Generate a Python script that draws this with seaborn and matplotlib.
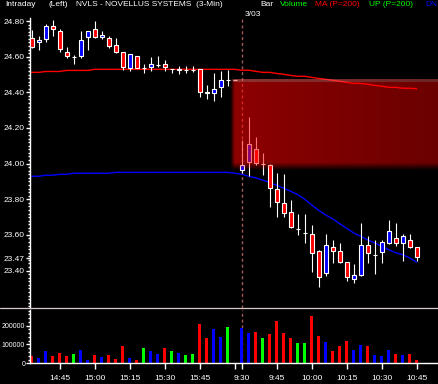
import numpy as np
import matplotlib
matplotlib.use("Agg")
import matplotlib.pyplot as plt
import seaborn as sns
from matplotlib.patches import Rectangle
from matplotlib.lines import Line2D
from matplotlib.ticker import FixedLocator, MultipleLocator

# ---------------- data (3-min bars, previous session then 3/03) ----------------
opens = [24.705, 24.681, 24.697, 24.770, 24.742, 24.624, 24.598, 24.602, 24.710, 24.753,
         24.709, 24.705, 24.667, 24.624, 24.538, 24.602, 24.538, 24.540, 24.553, 24.559,
         24.532, 24.528, 24.525, 24.525, 24.532, 24.402, 24.394, 24.432, 24.469, 24.468,
         23.964, 24.011, 24.080, 23.998, 23.990, 23.858, 23.777, 23.730, 23.632, 23.609,
         23.605, 23.510, 23.388, 23.532, 23.510, 23.447, 23.351, 23.375, 23.544, 23.486,
         23.503, 23.557, 23.581, 23.557, 23.572, 23.530]
highs = [24.750, 24.714, 24.783, 24.807, 24.755, 24.654, 24.608, 24.742, 24.742, 24.798,
         24.742, 24.714, 24.705, 24.624, 24.613, 24.602, 24.557, 24.596, 24.603, 24.581,
         24.532, 24.548, 24.548, 24.548, 24.532, 24.441, 24.510, 24.521, 24.525, 24.468,
         24.133, 24.263, 24.151, 24.061, 23.998, 23.946, 23.942, 23.796, 23.718, 23.718,
         23.656, 23.515, 23.605, 23.572, 23.553, 23.447, 23.435, 23.669, 23.594, 23.572,
         23.572, 23.684, 23.669, 23.605, 23.605, 23.530]
lows = [24.648, 24.639, 24.680, 24.714, 24.624, 24.593, 24.561, 24.593, 24.636, 24.705,
        24.700, 24.649, 24.620, 24.525, 24.521, 24.538, 24.507, 24.521, 24.544, 24.521,
        24.510, 24.503, 24.510, 24.515, 24.375, 24.363, 24.353, 24.375, 24.435, 24.468,
        23.946, 23.930, 23.990, 23.936, 23.755, 23.702, 23.702, 23.637, 23.600, 23.557,
        23.394, 23.310, 23.370, 23.444, 23.444, 23.343, 23.332, 23.370, 23.444, 23.381,
        23.444, 23.549, 23.538, 23.456, 23.526, 23.456]
closes = [24.656, 24.693, 24.770, 24.757, 24.643, 24.602, 24.598, 24.692, 24.742, 24.709,
          24.721, 24.658, 24.628, 24.540, 24.613, 24.538, 24.538, 24.559, 24.556, 24.540,
          24.532, 24.530, 24.525, 24.525, 24.404, 24.399, 24.417, 24.469, 24.469, 24.468,
          23.990, 24.110, 24.002, 23.998, 23.862, 23.787, 23.721, 23.646, 23.632, 23.609,
          23.497, 23.366, 23.544, 23.512, 23.450, 23.366, 23.375, 23.544, 23.497, 23.489,
          23.559, 23.622, 23.557, 23.594, 23.534, 23.474]
volume = [40000, 28000, 65000, 39000, 55000, 39000, 49000, 71000, 18000, 44000,
          34000, 44000, 23000, 92000, 28000, 18000, 81000, 65000, 49000, 81000,
          65000, 55000, 44000, 49000, 209000, 134000, 182000, 139000, 193000, 0,
          188000, 161000, 166000, 134000, 156000, 225000, 161000, 134000, 108000, 108000,
          252000, 145000, 113000, 65000, 92000, 118000, 71000, 97000, 92000, 44000,
          39000, 71000, 49000, 44000, 49000, 18000]
ma_200 = [24.512, 24.512, 24.517, 24.517, 24.517, 24.523, 24.523, 24.523, 24.523, 24.529,
          24.529, 24.529, 24.529, 24.529, 24.529, 24.529, 24.529, 24.529, 24.529, 24.529,
          24.529, 24.529, 24.529, 24.529, 24.529, 24.529, 24.529, 24.529, 24.529, 24.529,
          24.524, 24.524, 24.518, 24.512, 24.512, 24.506, 24.501, 24.495, 24.490, 24.490,
          24.484, 24.478, 24.473, 24.467, 24.462, 24.456, 24.450, 24.450, 24.445, 24.439,
          24.434, 24.428, 24.428, 24.423, 24.423, 24.420]
dn_200 = [23.929, 23.929, 23.935, 23.935, 23.940, 23.940, 23.946, 23.946, 23.946, 23.946,
          23.946, 23.946, 23.951, 23.951, 23.951, 23.951, 23.951, 23.951, 23.951, 23.951,
          23.951, 23.951, 23.951, 23.951, 23.951, 23.951, 23.951, 23.951, 23.951, 23.946,
          23.940, 23.929, 23.920, 23.907, 23.895, 23.878, 23.862, 23.845, 23.826, 23.800,
          23.768, 23.738, 23.712, 23.690, 23.663, 23.637, 23.611, 23.592, 23.572, 23.555,
          23.536, 23.517, 23.500, 23.489, 23.471, 23.447]
time_tick_bars = [4, 9, 14, 19, 24, 29, 30, 35, 40, 45, 50, 55]
time_tick_labels = ["14:45", "15:00", "15:15", "15:30", "15:45", "", "9:30", "9:45",
                    "10:00", "10:15", "10:30", "10:45"]
price_ticks = [23.40, 23.47, 23.60, 23.80, 24.00, 24.20, 24.40, 24.60, 24.80]
volume_ticks = [0, 100000, 200000]
day_break_bar = 30
day_label = "3/03"

# ---------------- style ----------------
sns.set_theme(style="dark", rc={"axes.facecolor": "black", "figure.facecolor": "black",
                                "axes.edgecolor": "white", "text.color": "white",
                                "xtick.color": "white", "ytick.color": "white"})
plt.rcParams['font.family'] = ['Liberation Sans', 'DejaVu Sans']

RED, BLUE, GREEN = "#ff0000", "#0000ff", "#00ff00"
W, H = 439, 384
fig = plt.figure(figsize=(W / 100, H / 100), dpi=100, facecolor="black")


def px_rect(left, top, right, bottom):
    return [left / W, 1 - bottom / H, (right - left) / W, (bottom - top) / H]


axp = fig.add_axes(px_rect(30, 18, 439, 308))
axv = fig.add_axes(px_rect(30, 310, 439, 363.3))

idx = np.arange(len(opens))
direction = ["up" if c > o else ("down" if c < o else "flat") for o, c in zip(opens, closes)]
body_col = {"up": BLUE, "down": RED, "flat": "white"}

# candles
axp.vlines(idx, lows, highs, color="white", lw=0.8, zorder=2)
for i in idx:
    o, c = opens[i], closes[i]
    axp.add_patch(Rectangle((i - 0.28, min(o, c)), 0.56, abs(c - o),
                            facecolor=body_col[direction[i]], edgecolor="white",
                            lw=0.8, zorder=3))

# moving averages
sns.lineplot(x=idx, y=ma_200, color=RED, lw=1.0, ax=axp, zorder=1)
sns.lineplot(x=idx, y=dn_200, color=BLUE, lw=1.0, ax=axp, zorder=1)

# gap shading
gap_top, gap_bot = closes[day_break_bar - 2], opens[day_break_bar]
xl = (-0.243, 58.19)
Ncol, Nrow = 300, 90
a = np.linspace(0.56, 0.42, Ncol)[None, :] * np.ones((Nrow, 1))
a[:, :6] *= np.linspace(0.2, 1, 6)[None, :]
a[-8:, :] *= np.linspace(1, 0.1, 8)[:, None]
rgba = np.zeros((Nrow, Ncol, 4))
rgba[..., 0] = 1.0
rgba[:3, :, 1] = 0.35
rgba[:3, :, 2] = 0.35
rgba[..., 3] = a
axp.imshow(rgba, extent=[day_break_bar - 1.5, xl[1], gap_bot, gap_top], aspect="auto",
           zorder=5, interpolation="bilinear")

# volume
vol_pal = {"up": BLUE, "down": RED, "flat": GREEN}
sns.barplot(x=idx, y=volume, hue=direction, palette=vol_pal, dodge=False,
            native_scale=True, width=0.45, saturation=1, legend=False,
            errorbar=None, linewidth=0, ax=axv)

# day break
for ax in (axp, axv):
    ax.axvline(day_break_bar, color="#a05a5a", lw=1, ls=(0, (2.2, 2)), zorder=0.5)

# axes formatting
axp.set_xlim(*xl)
axp.set_ylim(23.19, 24.817)
axv.set_xlim(*xl)
axv.set_ylim(0, 283500)
for ax in (axp, axv):
    ax.set_facecolor("black")
    ax.grid(False)
    ax.set_xlabel("")
    ax.set_ylabel("")
    for s in ("top", "right"):
        ax.spines[s].set_visible(False)
    ax.spines["left"].set_color("white")
    ax.spines["left"].set_linewidth(1)
    ax.tick_params(axis="y", which="major", length=3, width=1, colors="white",
                   labelsize=6, pad=0.8, left=True)
    ax.tick_params(axis="y", which="minor", length=1.5, width=1, colors="white", left=True)

axp.spines["bottom"].set_visible(False)
axp.set_xticks([])
axp.yaxis.set_major_locator(FixedLocator(price_ticks))
axp.set_yticklabels([f"{v:.2f}" for v in price_ticks])
axp.yaxis.set_minor_locator(MultipleLocator(0.02))

axv.spines["bottom"].set_color("white")
axv.spines["bottom"].set_linewidth(1)
axv.yaxis.set_major_locator(FixedLocator(volume_ticks))
axv.set_yticklabels([f"{v:d}" for v in volume_ticks])
axv.tick_params(axis="y", which="major", labelsize=5, pad=0.5)
axv.yaxis.set_minor_locator(MultipleLocator(20000))
axv.set_xticks(time_tick_bars)
axv.set_xticklabels(time_tick_labels)
axv.tick_params(axis="x", length=4, width=1, colors="white", labelsize=6, pad=4.5,
                bottom=True)

# separator line between panels
fig.add_artist(Line2D([0, 1], [1 - 308.3 / H, 1 - 308.3 / H], color="#dcc8c8", lw=0.9,
                      transform=fig.transFigure))

# header
hy = 1 - 5 / H
hdr = [("Intraday", 5, "white"), ("(Left)", 49, "white"),
       ("NVLS - NOVELLUS SYSTEMS  (3-Min)", 76, "white"), ("Bar", 260, "white"),
       ("Volume", 280, GREEN), ("MA (P=200)", 315, RED), ("UP (P=200)", 369, GREEN),
       ("DN", 425, BLUE)]
for txt, x, col in hdr:
    fig.text(x / W, hy, txt, color=col, fontsize=6, ha="left", va="center")

axp.annotate(day_label, xy=(day_break_bar, 1), xycoords=("data", "axes fraction"),
             xytext=(3, 4), textcoords="offset pixels", color="white", fontsize=6,
             ha="left", va="center")

fig.savefig("out.png", dpi=100, facecolor="black")
